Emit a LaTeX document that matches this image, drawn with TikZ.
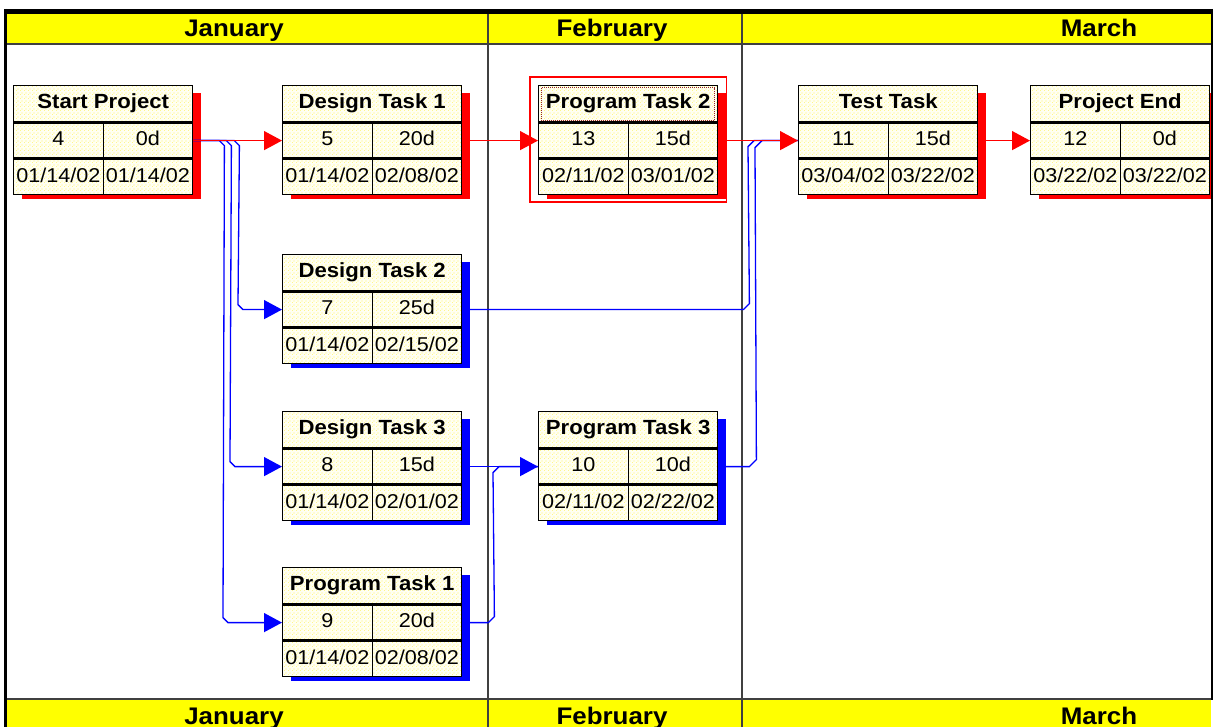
\documentclass[tikz,border=0pt]{standalone}
\usepackage{fontspec}
\setmainfont{Liberation Sans}
\newfontfamily\gfont[FakeStretch=1.08]{Liberation Sans}
\usetikzlibrary{positioning,arrows.meta,patterns}

\definecolor{cellbg}{RGB}{255,255,242}
\definecolor{dotyellow}{RGB}{255,235,0}
\definecolor{hdryellow}{RGB}{255,255,0}
\definecolor{gridgray}{RGB}{64,64,64}
\definecolor{focusred}{RGB}{150,40,40}

% sparse staggered dots for the task cells
\pgfdeclarepatternformonly{cell dots}{\pgfpointorigin}{\pgfqpoint{4pt}{4pt}}{\pgfqpoint{4pt}{4pt}}{%
  \pgfpathrectangle{\pgfqpoint{0pt}{0pt}}{\pgfqpoint{0.9pt}{0.9pt}}%
  \pgfpathrectangle{\pgfqpoint{2pt}{2pt}}{\pgfqpoint{0.9pt}{0.9pt}}%
  \pgfusepath{fill}}

\tikzset{
  cell/.style={draw, line width=1.4pt, minimum width=89.5pt, minimum height=35pt,
    inner sep=0pt, text height=14.5pt, text depth=4pt,
    preaction={fill=cellbg}, pattern=cell dots,
    pattern color=dotyellow, font=\gfont\fontsize{20}{22}\selectfont},
  titlecell/.style={cell, minimum width=179pt, minimum height=36pt,
    font=\gfont\bfseries\fontsize{20.5}{22}\selectfont},
  month/.style={inner sep=0pt, anchor=base, font=\gfont\bfseries\fontsize{24}{26}\selectfont},
  redlink/.style={red, line width=1.3pt},
  bluelink/.style={blue, line width=1.3pt},
  tip/.style={-{Triangle[length=18pt,width=19pt]}}
}

% name, x, y, title, id, duration, start, finish, shadow
\newcommand{\tasknode}[9]{%
  \fill[#9] (#2+9,#3+8) rectangle ++(179,106);
  \node[titlecell, anchor=north west] (#1) at (#2,#3) {#4};
  \node[cell, below right=0pt and 0pt of #1.south west] (#1-id) {#5};
  \node[cell, below left=0pt and 0pt of #1.south east] (#1-dur) {#6};
  \node[cell, below right=0pt and 0pt of #1-id.south west] (#1-start) {#7};
  \node[cell, below left=0pt and 0pt of #1-dur.south east] (#1-finish) {#8};
}

\begin{document}
\begin{tikzpicture}[x=1pt, y=-1pt]
\useasboundingbox (0,0) rectangle (1218,727);
\clip (0,0) rectangle (1218,727);

% month bars
\fill[black] (4,9) rectangle (1213,14);
\fill[hdryellow] (7,14) rectangle (1211,43);
\fill[hdryellow] (7,700) rectangle (1211,740);
\draw[gridgray, line width=2pt] (7,44) -- (1211,44);
\draw[gridgray, line width=2pt] (7,699) -- (1211,699);
\draw[gridgray, line width=2pt] (487.5,14) -- (487.5,727);
\draw[gridgray, line width=2pt] (742,14) -- (742,727);

\node[month] (jan) at (234,36.5) {January};
\node[month] (feb) at (612,36.5) {February};
\node[month] (mar) at (1099,36.5) {March};
\node[month] (jan2) at (234,724) {January};
\node[month] (feb2) at (612,724) {February};
\node[month] (mar2) at (1099,724) {March};

% tasks
\begin{scope}
\clip (0,0) rectangle (1211,727);
\tasknode{sp}{13}{85}{Start Project}{4}{0d}{01/14/02}{01/14/02}{red}
\tasknode{dt1}{282}{85}{Design Task 1}{5}{20d}{01/14/02}{02/08/02}{red}
\tasknode{pt2}{538}{85}{Program Task 2}{13}{15d}{02/11/02}{03/01/02}{red}
\tasknode{test}{798}{85}{Test Task}{11}{15d}{03/04/02}{03/22/02}{red}
\tasknode{pe}{1030}{85}{Project End}{12}{0d}{03/22/02}{03/22/02}{red}
\tasknode{dt2}{282}{254}{Design Task 2}{7}{25d}{01/14/02}{02/15/02}{blue}
\tasknode{dt3}{282}{411}{Design Task 3}{8}{15d}{01/14/02}{02/01/02}{blue}
\tasknode{pt3}{538}{411}{Program Task 3}{10}{10d}{02/11/02}{02/22/02}{blue}
\tasknode{pt1}{282}{567}{Program Task 1}{9}{20d}{01/14/02}{02/08/02}{blue}
\end{scope}

% blue links
\draw[bluelink, tip] (sp-dur.east) -- ++(41,0) -- ++(5,5)
  -- ([shift={(-44,-5)}]dt2-id.west) -- ++(5,5) -- (dt2-id.west);
\draw[bluelink, tip] (sp-dur.east) -- ++(33,0) -- ++(5,5)
  -- ([shift={(-52,-5)}]dt3-id.west) -- ++(5,5) -- (dt3-id.west);
\draw[bluelink, tip] (sp-dur.east) -- ++(26,0) -- ++(5,5)
  -- ([shift={(-59,-5)}]pt1-id.west) -- ++(5,5) -- (pt1-id.west);
\draw[bluelink] (pt1-dur.east) -- ++(26,0) -- ++(6,-6)
  -- ([shift={(-45,6)}]pt3-id.west) -- ++(6,-6) -- (pt3-id.west);
\draw[bluelink, tip] (dt3-dur.east) -- (pt3-id.west);
\draw[bluelink] (dt2-dur.east) -- ++(281,0) -- ++(6,-6)
  -- ([shift={(-50,6)}]test-id.west) -- ++(6,-6) -- (test-id.west);
\draw[bluelink] (pt3-dur.east) -- ++(31,0) -- ++(7,-7)
  -- ([shift={(-43,7)}]test-id.west) -- ++(7,-7) -- (test-id.west);

% red links
\draw[redlink, tip] (sp-dur.east) -- (dt1-id.west);
\draw[redlink, tip] (dt1-dur.east) -- (pt2-id.west);
\draw[redlink, tip] (pt2-dur.east) -- (test-id.west);
\draw[redlink, tip] (test-dur.east) -- (pe-id.west);

% selected task
\draw[red, line width=1.5pt] ([shift={(-8,-8)}]pt2.north west) rectangle ([shift={(8,7)}]pt2-finish.south east);
\draw[focusred, densely dotted, line width=1pt] ([shift={(3,3)}]pt2.north west) rectangle ([shift={(-4,-2)}]pt2.south east);

% frame
\draw[black, line width=3pt] (5.5,9) -- (5.5,727);
\draw[black, line width=2pt] (1212,9) -- (1212,700);
\end{tikzpicture}
\end{document}
